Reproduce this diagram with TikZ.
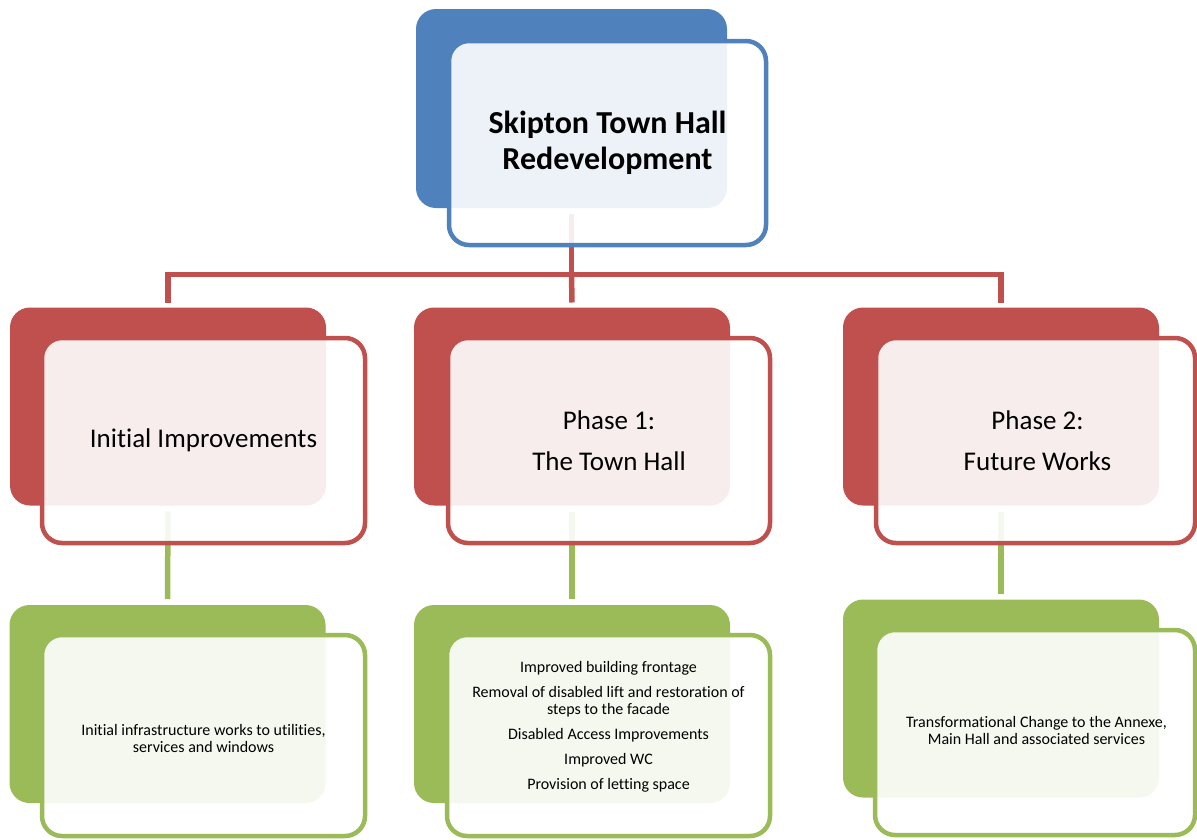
\documentclass[tikz,border=0pt]{standalone}
\usepackage{fontspec}
\setmainfont{Carlito}[Ligatures={NoCommon}]
\definecolor{cblue}{HTML}{4F81BD}
\definecolor{cred}{HTML}{C0504D}
\definecolor{cgreen}{HTML}{9BBB59}
\begin{document}
\begin{tikzpicture}[x=1pt,y=-1pt,
 backbox/.style={rectangle, rounded corners=20pt, fill=#1, minimum width=316pt, minimum height=198pt, inner sep=0pt, outer sep=0pt},
 frontbox/.style={rectangle, rounded corners=20pt, draw=#1, line width=4.5pt, fill=white, fill opacity=0.9, minimum width=321pt, minimum height=204pt, inner sep=0pt, outer sep=0pt},
 con/.style={draw=#1, line width=5.5pt},
 bigtxt/.style={font=\fontsize{27}{41}\selectfont, align=center, inner sep=0pt},
 smalltxt/.style={font=\fontsize{16}{17}\selectfont, align=center, inner sep=0pt},
]
\useasboundingbox (0,0) rectangle (1197,839);

% back boxes
\node[backbox=cblue, minimum width=311pt, minimum height=199pt] (tb) at (571.5,108.5) {};
\node[backbox=cred] (r1b) at (168,406.5) {};
\node[backbox=cred] (r2b) at (572,406.5) {};
\node[backbox=cred] (r3b) at (1001,406.5) {};
\node[backbox=cgreen] (g1b) at (167.5,704) {};
\node[backbox=cgreen] (g2b) at (572,704) {};
\node[backbox=cgreen] (g3b) at (1001,698.5) {};

% connectors (beneath the front boxes)
\coordinate (hub) at (571.5,274.5);
\draw[con=cred] ([yshift=-6pt]tb.south) -- (hub);
\draw[con=cred, line join=miter] ([yshift=5pt]r1b.north) |- (hub) -| ([yshift=5pt]r3b.north);
\draw[con=cred] (hub) -- ([yshift=5pt]r2b.north);
\draw[con=cgreen] ([yshift=-6pt]r1b.south) -- ([yshift=6pt]g1b.north);
\draw[con=cgreen] ([yshift=-6pt]r2b.south) -- ([yshift=6pt]g2b.north);
\draw[con=cgreen] ([yshift=-6pt]r3b.south) -- ([yshift=6pt]g3b.north);

% front boxes
\node[frontbox=cblue, minimum width=317pt] (tf) at (607.5,143) {};
\node[frontbox=cred, minimum width=323pt, minimum height=205pt] (r1f) at (203.5,440.5) {};
\node[frontbox=cred, minimum width=322pt, minimum height=205pt] (r2f) at (609,440.5) {};
\node[frontbox=cred, minimum width=319pt, minimum height=205pt] (r3f) at (1035.5,440.5) {};
\node[frontbox=cgreen, minimum width=323pt, minimum height=201pt] (g1f) at (203.5,735.5) {};
\node[frontbox=cgreen, minimum width=323pt, minimum height=201pt] (g2f) at (608.5,735.5) {};
\node[frontbox=cgreen, minimum width=320pt, minimum height=205pt] (g3f) at (1035,732.5) {};

% texts
\node[font=\fontsize{32}{36}\selectfont\bfseries, align=center, inner sep=0pt] (tt) at (tf.center) {Skipton Town Hall\\Redevelopment};
\node[bigtxt] (r1t) at (r1f.center) {Initial Improvements};
\node[bigtxt] (r2t) at (r2f.center) {Phase 1:\\The Town Hall};
\node[bigtxt] (r3t) at ([xshift=2pt]r3f.center) {Phase 2:\\Future Works};
\node[smalltxt] (g1t) at ([yshift=-3pt]g1f.center) {Initial infrastructure works to utilities,\\services and windows};
\node[smalltxt] (g2t) at ([yshift=9pt]g2f.center) {Improved building frontage\\[8pt]Removal of disabled lift and restoration of\\steps to the facade\\[8pt]Disabled Access Improvements\\[8pt]Improved WC\\[8pt]Provision of letting space};
\node[smalltxt] (g3t) at ([xshift=1.5pt,yshift=2pt]g3f.center) {Transformational Change to the Annexe,\\Main Hall and associated services};
\end{tikzpicture}
\end{document}
